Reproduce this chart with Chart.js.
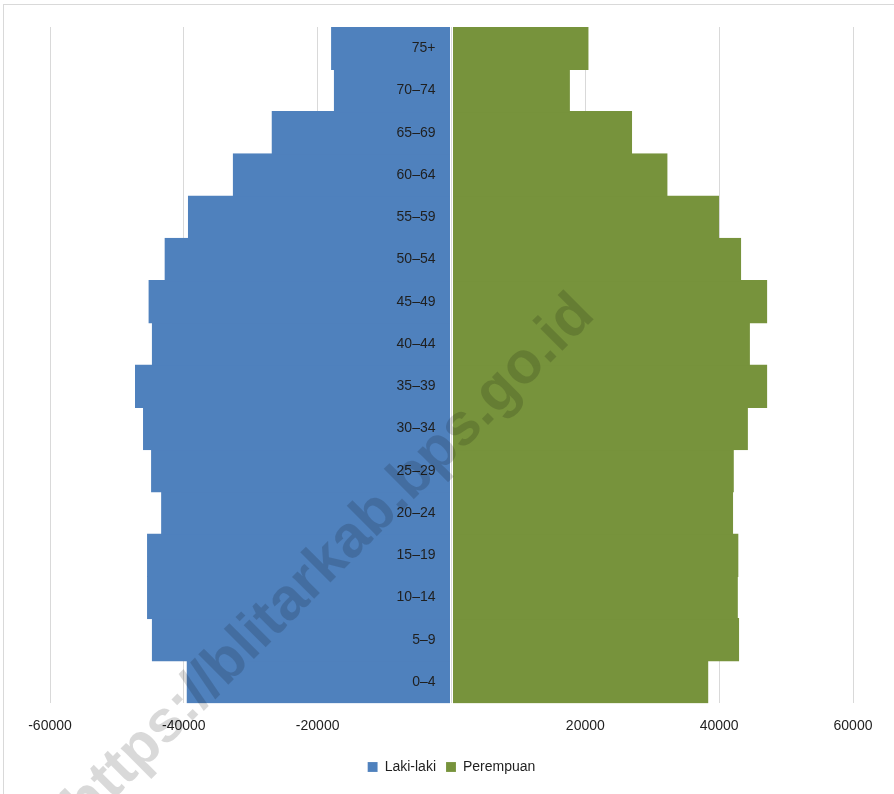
<!DOCTYPE html>
<html>
<head>
<meta charset="utf-8">
<script src="https://cdn.jsdelivr.net/npm/chart.js@4/dist/chart.umd.min.js"></script>
<style>
    html, body { margin: 0; padding: 0; background: #fff; }
    #wrap { position: relative; width: 894px; height: 794px; }
    #frame { position: absolute; left: 3px; top: 4px; width: 1000px; height: 1000px;
             border-top: 1px solid #d9d9d9; border-left: 1px solid #d9d9d9; }
    canvas { position: absolute; left: 0; top: 0; }
</style>
</head>
<body>
<div id="wrap">
    <div id="frame"></div>
    <canvas id="pyramid" width="894" height="794"></canvas>
</div>
<script>
// Kelompok umur (bawah ke atas)
const ageGroups = ['0–4', '5–9', '10–14', '15–19', '20–24', '25–29', '30–34', '35–39',
                   '40–44', '45–49', '50–54', '55–59', '60–64', '65–69', '70–74', '75+'];

// Jumlah penduduk per kelompok umur
const lakiLaki  = [39600, 44800, 45500, 45500, 43400, 44900, 46100, 47300,
                   44800, 45300, 42900, 39400, 32700, 26900, 17600, 18000];
const perempuan = [38400, 43000, 42800, 42900, 42100, 42200, 44300, 47200,
                   44600, 47200, 43300, 40000, 32300, 27000, 17700, 20500];

const xTicks = [-60000, -40000, -20000, 20000, 40000, 60000];

const FONT = "'Liberation Sans', Arial, sans-serif";

// Label kelompok umur di tengah piramida
const centerLabels = {
    id: 'centerLabels',
    afterDatasetsDraw(chart) {
        const { ctx, scales: { x, y } } = chart;
        ctx.save();
        ctx.font = '14px ' + FONT;
        ctx.fillStyle = '#1f1f1f';
        ctx.textAlign = 'right';
        ctx.textBaseline = 'middle';
        const x0 = x.getPixelForValue(0) - 16;
        ageGroups.forEach((label, i) => {
            ctx.fillText(label, x0, y.getPixelForValue(i));
        });
        ctx.restore();
    }
};

// Watermark
const watermark = {
    id: 'watermark',
    afterDraw(chart) {
        const { ctx } = chart;
        ctx.save();
        ctx.translate(330, 560);
        ctx.rotate(-Math.PI / 4);
        ctx.font = 'bold 59px ' + FONT;
        ctx.fillStyle = 'rgba(0, 0, 0, 0.15)';
        ctx.textAlign = 'center';
        ctx.textBaseline = 'middle';
        ctx.fillText('https://blitarkab.bps.go.id', 0, 0);
        ctx.restore();
    }
};

const ctx = document.getElementById('pyramid').getContext('2d');
new Chart(ctx, {
    type: 'bar',
    data: {
        labels: ageGroups,
        datasets: [
            {
                label: 'Laki-laki',
                data: lakiLaki.map(v => -v),
                backgroundColor: '#4F81BD',
                borderColor: 'rgba(255,255,255,0.6)',
                borderWidth: { top: 0, bottom: 0, left: 0, right: 1 },
                borderSkipped: false
            },
            {
                label: 'Perempuan',
                data: perempuan,
                backgroundColor: '#77933C',
                borderColor: 'rgba(255,255,255,0.6)',
                borderWidth: { top: 0, bottom: 0, left: 1, right: 0 },
                borderSkipped: false
            }
        ]
    },
    options: {
        indexAxis: 'y',
        responsive: false,
        animation: false,
        // sedikit tumpang tindih supaya tidak ada garis tipis antar baris
        barPercentage: 1.03,
        categoryPercentage: 1,
        layout: { padding: { top: 27, left: 50, right: 41, bottom: 10 } },
        plugins: {
            tooltip: { enabled: false },
            legend: {
                position: 'bottom',
                labels: {
                    boxWidth: 10,
                    boxHeight: 10,
                    padding: 10,
                    color: '#1f1f1f',
                    font: { family: FONT, size: 14 }
                }
            }
        },
        scales: {
            x: {
                stacked: true,
                min: -60000,
                max: 60000,
                afterBuildTicks: axis => { axis.ticks = [-60000, -40000, -20000, 0, 20000, 40000, 60000].map(v => ({ value: v })); },
                grid: { color: '#d9d9d9', drawTicks: false },
                border: { display: false },
                ticks: {
                    padding: 15,
                    color: '#1f1f1f',
                    font: { family: FONT, size: 14 },
                    callback: v => xTicks.includes(v) ? String(v) : ''
                }
            },
            y: {
                stacked: true,
                reverse: true,
                display: false
            }
        }
    },
    plugins: [centerLabels, watermark]
});
</script>
</body>
</html>
